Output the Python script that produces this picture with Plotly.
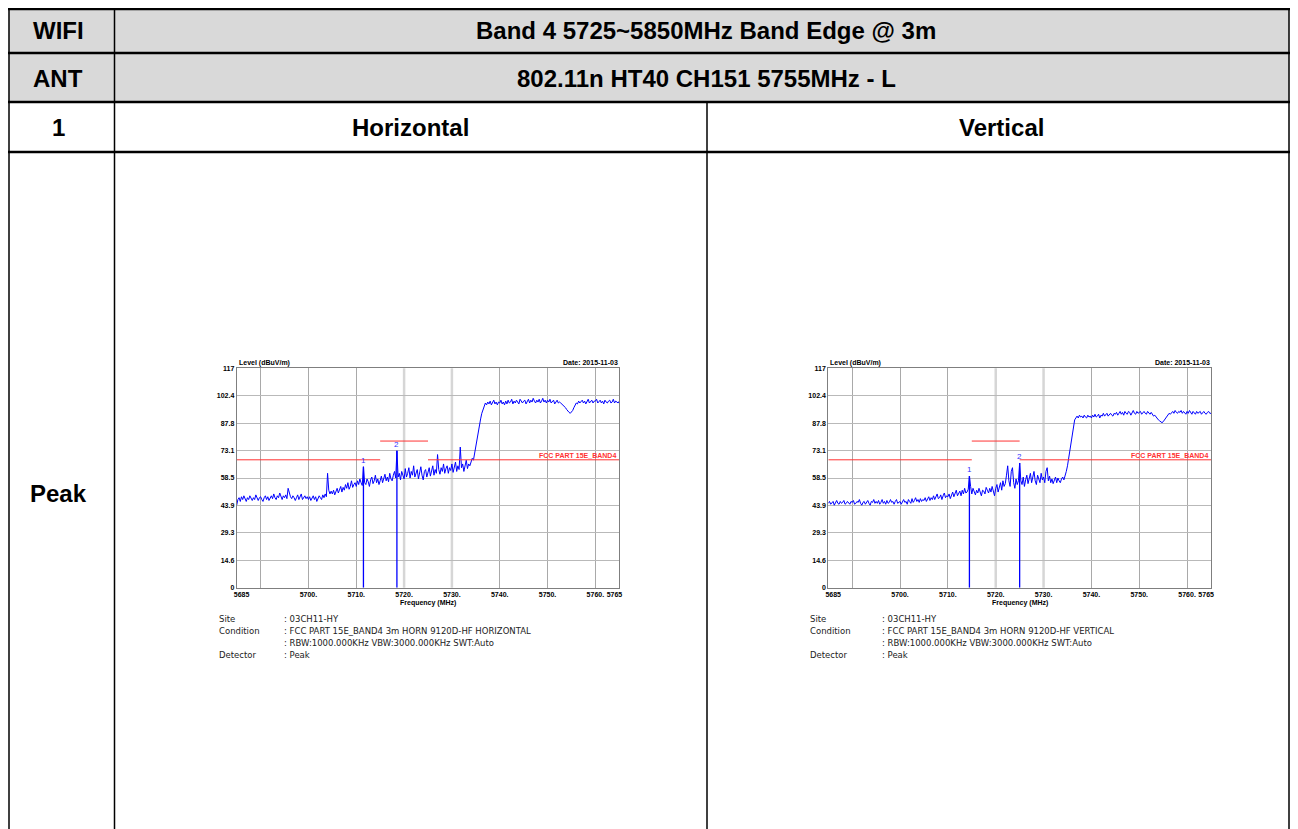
import plotly.graph_objects as go

# page is rendered with an 8px body margin; figure sized to fit the 1298x829 window
OFF = 8
W, H = 1298 - OFF, 829 - OFF

# ---------------- data ----------------
FREQ_START, FREQ_STEP = 5685.0, 0.25

horiz_level = [
    44, 47, 48, 46, 48.5, 47, 49, 47.5, 46, 48, 47, 49, 48, 46.5, 48, 47, 49.5, 48, 46.5, 48,
    48.5, 47, 46, 48, 49, 47, 48.5, 46.5, 48, 49, 47.5, 50, 48, 47, 49, 48, 50.5, 48, 47, 49,
    48, 49.5, 47.5, 53, 50, 48.5, 47.5, 49, 48, 46.5, 48, 49.5, 47, 48.5, 50, 47, 48, 49, 47.5, 48.5,
    47, 48.5, 46.5, 48, 49, 47, 48.5, 46, 47.5, 49, 48, 47, 49.5, 48, 50, 48.5, 61, 52, 50, 51.5,
    50, 52, 49.5, 51, 53, 50.5, 52, 54, 51, 53.5, 52, 55, 53, 56, 52.5, 54, 57, 53.5, 55, 56,
    54, 57, 55, 58, 56, 54.5, 64.5, 56, 55, 58, 56.5, 54, 57.5, 59, 55.5, 57, 60, 56, 58, 55,
    57, 59.5, 56, 58, 60.5, 57, 59, 56.5, 61, 58, 57, 60, 62, 58.5, 73, 59, 61, 57.5, 62, 60,
    58, 63.5, 59, 61, 64, 58.5, 62, 60, 65, 59, 61.5, 63, 58, 62, 64.5, 60, 57.5, 62, 63, 59,
    61, 64, 59.5, 62, 65, 60, 63, 61, 71, 63, 60.5, 64, 62, 66, 61, 63.5, 65, 61, 64, 62.5,
    66, 61.5, 64, 67, 62, 65, 63, 75, 64, 66, 62, 65, 68, 63.5, 66, 65, 67, 69, 68, 72,
    74, 78, 82, 86, 90, 93, 95, 97, 98.5, 97.5, 99, 98, 99.5, 97.5, 98.5, 100, 98, 99, 97.5, 99,
    98.5, 100, 98, 99, 97.5, 99.5, 98, 100, 98.5, 99, 100.5, 98, 99.5, 98.5, 100, 99, 98, 100.5, 99, 98.5,
    99.5, 100, 98, 99, 100.5, 98.5, 100, 99, 101, 99.5, 98.5, 100, 99, 100.5, 98.5, 99.5, 101, 99, 100, 98.5,
    100, 99, 100.5, 98.5, 99.5, 100, 98, 99, 100, 98.5, 99, 98.5, 98, 97.5, 97, 96, 95, 94, 93.5, 93,
    93.5, 94.5, 96, 97.5, 98.5, 98, 99.5, 98.5, 99, 100, 98.5, 99.5, 98, 99, 100.5, 98.5, 99, 100, 98.5, 99.5,
    99.5, 100.5, 98.5, 99, 100, 98.5, 99.5, 98, 100, 99, 98.5, 99.5, 100, 98.5, 99, 100.5, 98.5, 99.5, 99, 98.5,
    99.5,
]

vert_level = [
    45, 46, 44.5, 45.5, 46, 44, 45.5, 46.5, 45, 44.5, 46, 45, 45.5, 46.5, 44.5, 45, 46, 45.5, 44.5, 46,
    45.5, 46.5, 44.5, 45, 46, 45.5, 47, 45, 44, 45.5, 46, 44.5, 45.5, 46.5, 45, 44, 46, 45.5, 47, 45,
    46, 45, 46.5, 44.5, 45.5, 47, 45, 46, 44.5, 46.5, 45, 45.5, 47, 45.5, 46, 44.5, 46, 47, 45, 45.5,
    46, 44.5, 45.5, 47, 45.5, 46, 44.5, 47, 46, 45, 47.5, 45.5, 46.5, 48, 46, 47, 45.5, 47.5, 46, 47,
    46.5, 48, 46, 47.5, 48.5, 46.5, 48, 47, 49, 47, 48.5, 50, 47.5, 48, 49.5, 47, 49, 50.5, 48, 49,
    48.5, 50, 47.5, 49.5, 51, 48.5, 50, 52, 49, 50.5, 51.5, 49, 52, 50, 53, 50.5, 51, 52.5, 59.5, 54,
    50, 53, 51.5, 49.5, 52, 50.5, 53, 51, 49, 52, 51.5, 50, 53.5, 52, 50.5, 53, 51, 54, 52, 49,
    53, 55, 51, 54, 56, 52, 57, 54, 55.5, 60, 65, 57, 54, 62, 64, 56, 53, 58, 55, 57,
    66.5, 57, 55, 59, 54, 57.5, 60, 55.5, 58, 61, 56, 59, 62, 57, 55, 60, 58, 56, 61, 57.5,
    59, 56, 62, 64, 57, 59.5, 56, 58, 55.5, 57, 59, 56, 58.5, 57, 56, 58, 59, 57.5, 59.5, 62,
    65, 69, 74, 79, 83, 87, 89.5, 90.5, 91.5, 90.5, 92, 91, 91.5, 90.5, 92, 91, 90.5, 92, 91, 91.5,
    90.5, 92, 91, 92.5, 91, 91.5, 92.5, 90.5, 92, 91.5, 93, 91.5, 92, 93, 91.5, 92.5, 93, 92, 91.5, 93,
    92.5, 93.5, 92, 93, 94, 92.5, 93.5, 92, 94, 93, 92.5, 94, 93.5, 92, 93, 94.5, 93, 92.5, 94, 93,
    93.5, 94, 92.5, 93.5, 94, 93, 92.5, 94, 93, 92.5, 93.5, 92, 91.5, 92, 91, 90.5, 89.5, 89, 88.5, 88,
    88.5, 89.5, 90.5, 91.5, 92.5, 93, 92.5, 93.5, 94, 93, 94.5, 93.5, 93, 94, 93.5, 94.5, 93, 94, 93.5, 92.5,
    94, 93, 94.5, 93.5, 92.5, 94, 93.5, 92.5, 94, 93, 93.5, 94, 92.5, 93.5, 94, 93, 92.5, 93.5, 94, 93,
    93,
]

horiz_freq = [FREQ_START + FREQ_STEP * i for i in range(len(horiz_level))]
vert_freq = [FREQ_START + FREQ_STEP * i for i in range(len(vert_level))]

limit_freq = [5685, 5715, None, 5715, 5725, None, 5725, 5765]
limit_level = [68.2, 68.2, None, 78.2, 78.2, None, 68.2, 68.2]

horiz_marker_freq = [5711.5, 5718.5]
horiz_marker_level = [64.5, 73]
vert_marker_freq = [5714.5, 5725.0]
vert_marker_level = [59.5, 66.5]
marker_names = ["1", "2"]

y_ticks = [0, 14.6, 29.3, 43.9, 58.5, 73.1, 87.8, 102.4, 117]
y_tick_text = ["0", "14.6", "29.3", "43.9", "58.5", "73.1", "87.8", "102.4", "117"]
x_ticks = [5685, 5700, 5710, 5720, 5730, 5740, 5750, 5760, 5765]
x_tick_text = ["\u00a0\u00a0\u00a0\u00a0\u00a05685", "5700.", "5710.", "5720.", "5730.",
               "5740.", "5750.", "5760.", "5765\u00a0\u00a0\u00a0\u00a0\u00a0"]
dark_grid_freq = [5690, 5700, 5710, 5740, 5750, 5760]
light_grid_freq = [5720, 5730]

info_labels = ["Site", "Condition", "", "Detector"]
horiz_info = [": 03CH11-HY", ": FCC PART 15E_BAND4 3m HORN 9120D-HF HORIZONTAL",
              ": RBW:1000.000KHz VBW:3000.000KHz SWT:Auto", ": Peak"]
vert_info = [": 03CH11-HY", ": FCC PART 15E_BAND4 3m HORN 9120D-HF VERTICAL",
             ": RBW:1000.000KHz VBW:3000.000KHz SWT:Auto", ": Peak"]


def px(x):
    return (x - OFF) / W


def py(y):
    return 1 - (y - OFF) / H


ARIAL = "Liberation Sans, Arial, sans-serif"
BLUE = "#0000ff"
RED = "#ff3333"

fig = go.Figure()

charts = [
    dict(xa="x", ya="y", freq=horiz_freq, level=horiz_level, mf=horiz_marker_freq, ml=horiz_marker_level,
         left=236.7, right=619.3, info=horiz_info, info_x=217, colon_x=282),
    dict(xa="x2", ya="y2", freq=vert_freq, level=vert_level, mf=vert_marker_freq, ml=vert_marker_level,
         left=828.3, right=1211.0, info=vert_info, info_x=808, colon_x=880),
]
TOP, BOT = 368.3, 587.7

annotations = []
shapes = []
for c in charts:
    for gf in light_grid_freq:
        shapes.append(dict(type="line", xref=c["xa"], yref=c["ya"] + " domain", x0=gf, x1=gf, y0=0, y1=1,
                           line=dict(color="#d6d6d6", width=2.5), layer="below"))
    fig.add_trace(go.Scatter(x=c["freq"], y=c["level"], mode="lines", xaxis=c["xa"], yaxis=c["ya"],
                             line=dict(color=BLUE, width=1), showlegend=False, hoverinfo="skip"))
    fig.add_trace(go.Scatter(x=limit_freq, y=limit_level, mode="lines", xaxis=c["xa"], yaxis=c["ya"],
                             line=dict(color=RED, width=1), showlegend=False, connectgaps=False,
                             hoverinfo="skip"))
    for f, l, name in zip(c["mf"], c["ml"], marker_names):
        fig.add_trace(go.Scatter(x=[f, f], y=[0, l], mode="lines", xaxis=c["xa"], yaxis=c["ya"],
                                 line=dict(color=BLUE, width=1.3), showlegend=False, hoverinfo="skip"))
        annotations.append(dict(x=f, y=l, xref=c["xa"], yref=c["ya"], text=name, showarrow=False,
                                yanchor="bottom", font=dict(family=ARIAL, size=8, color="#3333ff")))
    annotations.append(dict(x=px(c["left"]), y=py(363), xref="paper", yref="paper",
                            text="Level (dBuV/m)", showarrow=False, xanchor="left", yanchor="middle",
                            font=dict(family=ARIAL, size=7, color="#000", weight="bold")))
    annotations.append(dict(x=px(c["right"] + 1), y=py(362), xref="paper", yref="paper",
                            text="Date: 2015-11-03", showarrow=False, xanchor="right", yanchor="middle",
                            font=dict(family=ARIAL, size=7, color="#000", weight="bold")))
    annotations.append(dict(x=px((c["left"] + c["right"]) / 2), y=py(603), xref="paper", yref="paper",
                            text="Frequency (MHz)", showarrow=False, xanchor="center", yanchor="middle",
                            font=dict(family=ARIAL, size=7, color="#000", weight="bold")))
    annotations.append(dict(x=px(c["right"] - 1), y=py(455), xref="paper", yref="paper",
                            text="FCC PART 15E_BAND4", showarrow=False, xanchor="right", yanchor="middle",
                            font=dict(family=ARIAL, size=7, color=RED, weight="bold")))
    for i, (lab, txt) in enumerate(zip(info_labels, c["info"])):
        yy = [619, 631, 643, 655][i]
        if lab:
            annotations.append(dict(x=px(c["info_x"]), y=py(yy), xref="paper", yref="paper", text=lab,
                                    showarrow=False, xanchor="left", yanchor="middle",
                                    font=dict(family="DejaVu Sans", size=8.5, color="#222")))
        annotations.append(dict(x=px(c["colon_x"]), y=py(yy), xref="paper", yref="paper", text=txt,
                                showarrow=False, xanchor="left", yanchor="middle",
                                font=dict(family="DejaVu Sans", size=8.5, color="#222")))

# ---------------- table ----------------
GRAY_FILL = "#d9d9d9"
RIGHT_EDGE = 1289
shapes.append(dict(type="rect", xref="paper", yref="paper", x0=px(8.5), x1=px(RIGHT_EDGE), y0=py(8.5), y1=py(102),
                   fillcolor=GRAY_FILL, line=dict(width=0), layer="below"))


def hline(y, x0, x1, w):
    shapes.append(dict(type="line", xref="paper", yref="paper", x0=px(x0), x1=px(x1), y0=py(y), y1=py(y),
                       line=dict(color="#000", width=w)))


def vline(x, y0, y1, w):
    shapes.append(dict(type="line", xref="paper", yref="paper", x0=px(x), x1=px(x), y0=py(y0), y1=py(y1),
                       line=dict(color="#000", width=w)))


hline(9, 8, RIGHT_EDGE + 1, 2.5)
hline(53, 8, RIGHT_EDGE + 1, 2.5)
hline(102, 8, RIGHT_EDGE + 1, 2.5)
hline(152, 8, RIGHT_EDGE + 1, 2.5)
vline(9, 8, 829, 1.5)
vline(114.5, 8, 829, 1.5)
vline(707, 102, 829, 1.5)
vline(RIGHT_EDGE, 8, 829, 1.5)

HDR = dict(family=ARIAL, size=24, color="#000", weight="bold")
for txt, x, y in [("WIFI", 58, 30), ("Band 4 5725~5850MHz Band Edge @ 3m", 706, 30),
                  ("ANT", 58, 78), ("802.11n HT40 CH151 5755MHz - L", 706, 78),
                  ("1", 58, 127), ("Horizontal", 410, 127), ("Vertical", 1002, 127),
                  ("Peak", 58, 493)]:
    annotations.append(dict(x=px(x), y=py(y), xref="paper", yref="paper", text=txt, showarrow=False,
                            xanchor="center", yanchor="middle", font=HDR))

TICKFONT = dict(family=ARIAL, size=7, color="#000", weight="bold")


def xaxis_cfg(left, right):
    return dict(domain=[px(left), px(right)], range=[5685, 5765], tickmode="array",
                tickvals=x_ticks, ticktext=x_tick_text, tickfont=TICKFONT, ticks="",
                showline=True, mirror=True, linecolor="#7f7f7f", linewidth=1,
                showgrid=False, zeroline=False,
                minor=dict(tickmode="array", tickvals=dark_grid_freq, showgrid=True, gridcolor="#a9a9a9",
                           gridwidth=1, ticks=""),
                automargin=False, fixedrange=True)


def yaxis_cfg(anchor):
    return dict(domain=[py(BOT), py(TOP)], range=[0, 117], tickmode="array", anchor=anchor,
                tickvals=y_ticks, ticktext=y_tick_text, tickfont=TICKFONT, ticks="",
                showline=True, mirror=True, linecolor="#7f7f7f", linewidth=1,
                showgrid=True, gridcolor="#b9b9b9", gridwidth=1, zeroline=False,
                automargin=False, fixedrange=True)


fig.update_layout(
    width=W, height=H, autosize=False,
    margin=dict(l=0, r=0, t=0, b=0, pad=0, autoexpand=False),
    paper_bgcolor="white", plot_bgcolor="white",
    xaxis=dict(xaxis_cfg(236.7, 619.3), anchor="y"),
    yaxis=yaxis_cfg("x"),
    xaxis2=dict(xaxis_cfg(828.3, 1211.0), anchor="y2"),
    yaxis2=yaxis_cfg("x2"),
    shapes=shapes,
    annotations=annotations,
    showlegend=False,
)

fig.write_html("out.html")
